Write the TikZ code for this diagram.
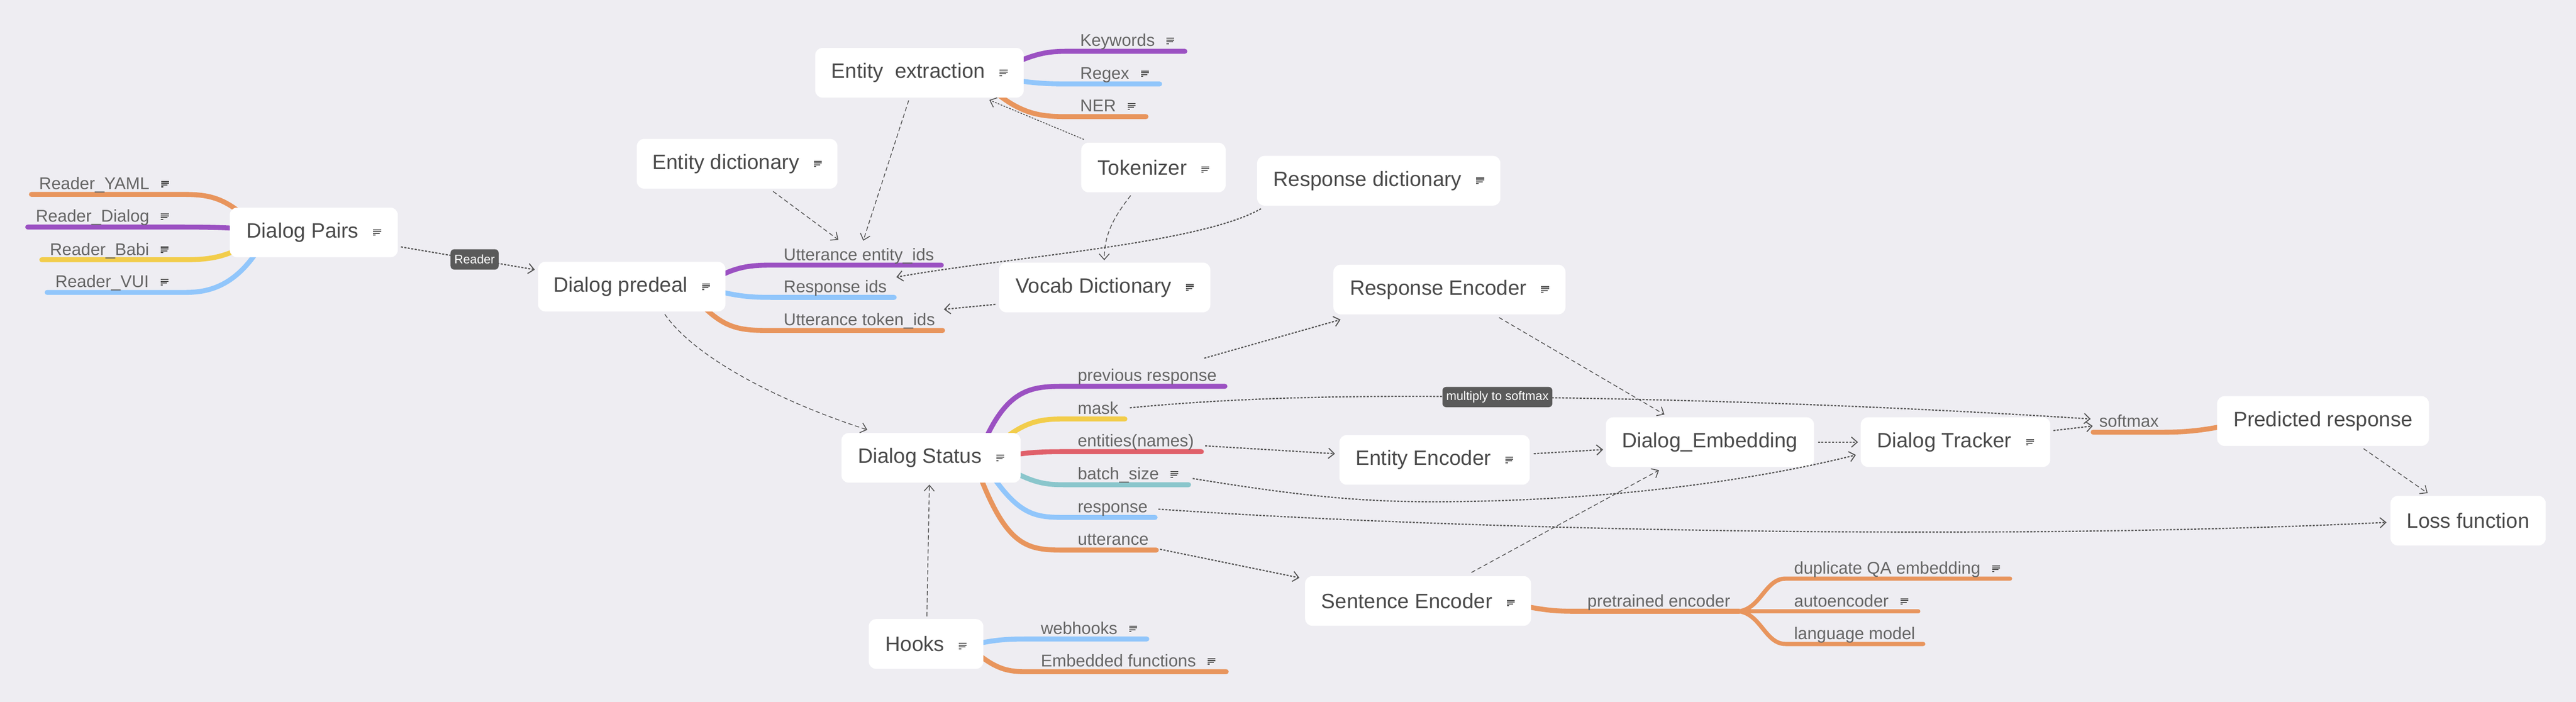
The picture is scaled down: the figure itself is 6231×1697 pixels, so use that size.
\documentclass[tikz,border=0pt]{standalone}
\usepackage{fontspec}
\setmainfont{Liberation Sans}
\usetikzlibrary{arrows.meta,calc}
\definecolor{bgc}{HTML}{EEEDF2}
\definecolor{corange}{HTML}{E8955D}
\definecolor{cpurple}{HTML}{9B51C2}
\definecolor{cyellow}{HTML}{F2CD4B}
\definecolor{cblue}{HTML}{91C6FB}
\definecolor{cred}{HTML}{E0606A}
\definecolor{cteal}{HTML}{8AC6CC}
\definecolor{conn}{HTML}{555555}
\definecolor{maintext}{HTML}{4A4A4A}
\definecolor{subtextc}{HTML}{666666}
\definecolor{tagc}{HTML}{5A5A5A}
\definecolor{iconc}{HTML}{555555}
\newcommand\mainfs{\fontsize{14.3pt}{17pt}\selectfont}
\newcommand\subfs{\fontsize{11.7pt}{14pt}\selectfont}
\newcommand\tagfs{\fontsize{8.5pt}{10pt}\selectfont}
\newcommand\nicon{{\color{iconc}\raisebox{1.4pt}{\vbox{\hrule width 5.4pt height 0.75pt\vskip0.5pt\hrule width 5.4pt height 0.75pt\vskip0.5pt\hrule width 4.4pt height 0.75pt\vskip0.5pt\hrule width 1.6pt height 0.75pt}}}}
\newcommand\mic{\hspace{10pt}\nicon}
\newcommand\sic{\hspace{8pt}\nicon}
\tikzset{
  mainnode/.style={fill=white, rounded corners=5pt, minimum height=1.2cm, inner sep=0pt, text=maintext, font=\mainfs},
  subtext/.style={anchor=base west, inner sep=0pt, text=subtextc, font=\subfs},
  br/.style={line width=3.4pt, line cap=round},
  brthin/.style={line width=2.9pt, line cap=round},
  dotarrow/.style={draw=conn, line width=0.85pt, dash pattern=on 1.4pt off 1pt, -{Straight Barb[length=4pt,width=7pt,line width=0.7pt]}},
  dotthin/.style={draw=conn, line width=0.6pt, dash pattern=on 1.2pt off 0.9pt, -{Straight Barb[length=4pt,width=7pt,line width=0.6pt]}},
  dasharrow/.style={draw=conn, line width=0.55pt, dash pattern=on 3pt off 1.8pt, -{Straight Barb[length=4pt,width=7pt,line width=0.6pt]}},
  tag/.style={fill=tagc, text=white, rounded corners=2.5pt, font=\tagfs, inner xsep=2.6pt, inner ysep=0pt, minimum height=0.49cm}
}
\begin{document}
\begin{tikzpicture}[x=0.01cm, y=-0.01cm]
\useasboundingbox (0,0) rectangle (6231,1697);
\fill[bgc] (0,0) rectangle (6231,1697);

% ---- branches: Dialog Pairs
\draw[br, corange] (600,530) .. controls (540,475) and (500,470) .. (440,470) -- (76,470);
\draw[br, cpurple] (600,555) .. controls (560,550) and (500,549) .. (440,549) -- (67,549);
\draw[br, cyellow] (600,590) .. controls (540,625) and (500,628) .. (440,628) -- (101,628);
\draw[br, cblue] (630,595) .. controls (560,710) and (480,707) .. (437,707) -- (114,707);
\node[subtext] (ryaml) at (94,458) {Reader\_YAML\sic};
\node[subtext] (rdial) at (86,537) {Reader\_Dialog\sic};
\node[subtext] (rbabi) at (120,617) {Reader\_Babi\sic};
\node[subtext] (rvui) at (133,695) {Reader\_VUI\sic};

% ---- branches: Dialog predeal
\draw[br, cpurple] (1740,668) .. controls (1790,641) and (1830,641) .. (1875,641) -- (2277,641);
\draw[br, cblue] (1740,705) .. controls (1800,719) and (1830,719) .. (1875,719) -- (2163,719);
\draw[br, corange] (1700,740) .. controls (1760,800) and (1800,799) .. (1875,799) -- (2280,799);
\node[subtext] (uei) at (1895,630) {Utterance entity\_ids};
\node[subtext] (rid) at (1895,707) {Response ids};
\node[subtext] (utid) at (1895,787) {Utterance token\_ids};

% ---- branches: Entity extraction
\draw[br, cpurple] (2460,150) .. controls (2520,124) and (2550,124) .. (2590,124) -- (2866,124);
\draw[br, cblue] (2460,195) .. controls (2520,203) and (2550,203) .. (2590,203) -- (2805,203);
\draw[br, corange] (2410,225) .. controls (2480,282) and (2530,282) .. (2590,282) -- (2772,282);
\node[subtext] (kw) at (2612,112) {Keywords\sic};
\node[subtext] (rx) at (2612,191) {Regex\sic};
\node[subtext] (ner) at (2612,270) {NER\sic};

% ---- branches: Dialog Status
\draw[br, cpurple] (2380,1070) .. controls (2440,934) and (2500,934) .. (2582,934) -- (2963,934);
\draw[br, cyellow] (2430,1060) .. controls (2490,1013) and (2530,1013) .. (2582,1013) -- (2721,1013);
\draw[br, cred] (2450,1100) .. controls (2500,1092) and (2540,1092) .. (2582,1092) -- (2906,1092);
\draw[br, cteal] (2450,1140) .. controls (2510,1172) and (2540,1172) .. (2582,1172) -- (2875,1172);
\draw[br, cblue] (2400,1150) .. controls (2470,1251) and (2510,1251) .. (2582,1251) -- (2794,1251);
\draw[br, corange] (2370,1150) .. controls (2440,1330) and (2490,1330) .. (2582,1330) -- (2797,1330);
\node[subtext] (prev) at (2606,922) {previous response};
\node[subtext] (mask) at (2606,1001) {mask};
\node[subtext] (ent) at (2606,1080) {entities(names)};
\node[subtext] (bs) at (2606,1160) {batch\_size\sic};
\node[subtext] (resp) at (2606,1239) {response};
\node[subtext] (utt) at (2606,1318) {utterance};

% ---- branches: Hooks
\draw[br, cblue] (2370,1555) .. controls (2420,1545) and (2450,1545) .. (2490,1545) -- (2774,1545);
\draw[br, corange] (2370,1585) .. controls (2420,1624) and (2450,1624) .. (2490,1624) -- (2966,1624);
\node[subtext] (wh) at (2517,1533) {webhooks\sic};
\node[subtext] (ef) at (2517,1612) {Embedded functions\sic};

% ---- branches: Sentence Encoder
\draw[br, corange] (3690,1466) .. controls (3750,1478) and (3780,1478) .. (3820,1478) -- (4207,1478);
\draw[brthin, corange] (4207,1478) .. controls (4260,1470) and (4270,1399) .. (4319,1399) -- (4862,1399);
\draw[brthin, corange] (4207,1478) -- (4640,1478);
\draw[brthin, corange] (4207,1478) .. controls (4260,1486) and (4270,1557) .. (4319,1557) -- (4652,1557);
\node[subtext] (pe) at (3839,1467) {pretrained encoder};
\node[subtext] (dqa) at (4339,1388) {duplicate QA embedding\sic};
\node[subtext] (ae) at (4339,1467) {autoencoder\sic};
\node[subtext] (lm) at (4339,1546) {language model};

% ---- branch: Predicted response
\draw[br, corange] (5380,1030) .. controls (5320,1042) and (5280,1045) .. (5230,1045) -- (5063,1045);
\node[subtext] (sm) at (5077,1033) {softmax};

% ---- main nodes
\node[mainnode, minimum width=4.06cm] (DP) at (759,562) {Dialog Pairs\mic};
\node[mainnode, minimum width=4.53cm] (PD) at (1528,693) {Dialog predeal\mic};
\node[mainnode, minimum width=5.04cm] (EE) at (2224,176) {Entity\ \ extraction\mic};
\node[mainnode, minimum width=4.85cm] (ED) at (1783,396) {Entity dictionary\mic};
\node[mainnode, minimum width=3.49cm] (TK) at (2790,405) {Tokenizer\mic};
\node[mainnode, minimum width=5.88cm] (RD) at (3335,437) {Response dictionary\mic};
\node[mainnode, minimum width=5.11cm] (VD) at (2672,695) {Vocab Dictionary\mic};
\node[mainnode, minimum width=5.61cm] (RE) at (3506,700) {Response Encoder\mic};
\node[mainnode, minimum width=4.33cm] (DS) at (2252,1107) {Dialog Status\mic};
\node[mainnode, minimum width=4.60cm] (EN) at (3470,1112) {Entity Encoder\mic};
\node[mainnode, minimum width=5.03cm] (EM) at (4136,1069) {Dialog\_Embedding};
\node[mainnode, minimum width=4.58cm] (DT) at (4730,1069) {Dialog Tracker\mic};
\node[mainnode, minimum width=5.12cm] (PR) at (5619,1018) {Predicted response};
\node[mainnode, minimum width=3.75cm] (LF) at (5970,1259) {Loss function};
\node[mainnode, minimum width=2.77cm] (HK) at (2240,1557) {Hooks\mic};
\node[mainnode, minimum width=5.46cm] (SE) at (3430,1453) {Sentence Encoder\mic};

% ---- connector end coordinates
\coordinate (uei-in1) at (2028,580);
\coordinate (uei-in2) at (2088,582);
\coordinate (rid-in) at (2168,670);
\coordinate (utid-in) at (2283,748);
\coordinate (sm-in1) at (5057,1013);
\coordinate (sm-in2) at (5062,1030);
\coordinate (prev-out) at (2913,866);
\coordinate (mask-out) at (2733,986);
\coordinate (ent-out) at (2915,1078);
\coordinate (bs-out) at (2885,1157);
\coordinate (resp-out) at (2802,1231);
\coordinate (utt-out) at (2806,1328);

% ---- connectors
\draw[dotarrow] ($(DP.east)+(7,35)$) -- node[tag, pos=0.55] {Reader} ($(PD.west)+(-7,-41)$);
\draw[dasharrow] ($(ED.south)+(87,6)$) -- (uei-in1);
\draw[dasharrow] ($(EE.south)+(-26,6)$) -- (uei-in2);
\draw[dotthin] ($(TK.north)+(-168,-7)$) -- ($(EE.south)+(169,5)$);
\draw[dasharrow] ($(TK.south)+(-55,7)$) .. controls (2690,530) and (2671,570) .. ($(VD.north)+(-1,-5)$);
\draw[dotarrow] ($(RD.south west)+(10,7)$) .. controls (2900,590) and (2450,620) .. (rid-in);
\draw[dotarrow] ($(VD.west)+(-8,41)$) -- (utid-in);
\draw[dasharrow] ($(PD.south)+(80,6)$) .. controls (1681,865) and (1884,970) .. ($(DS.north)+(-154,-7)$);
\draw[dasharrow] ($(HK.north)+(2,-6)$) -- ($(DS.south)+(-4,4)$);
\draw[dotarrow] (mask-out) .. controls (3000,960) and (3300,955) .. (3622,960) node[tag] {multiply to softmax} .. controls (4200,966) and (4700,990) .. (sm-in1);
\draw[dotarrow] (ent-out) -- ($(EN.west)+(-10,-15)$);
\draw[dotarrow] (bs-out) .. controls (3150,1200) and (3300,1215) .. (3500,1213) .. controls (3900,1210) and (4250,1160) .. ($(DT.west)+(-11,31)$);
\draw[dotarrow] (resp-out) .. controls (3500,1280) and (4800,1310) .. ($(LF.west)+(-9,4)$);
\draw[dotarrow] (utt-out) -- ($(SE.west)+(-13,-56)$);
\draw[dotarrow] (prev-out) -- ($(RE.south west)+(18,12)$);
\draw[dasharrow] ($(RE.south)+(120,7)$) -- ($(EM.north)+(-110,-6)$);
\draw[dasharrow] ($(SE.north)+(129,-8)$) -- ($(EM.south)+(-123,7)$);
\draw[dotarrow] ($(EN.east)+(9,-15)$) -- ($(EM.west)+(-6,18)$);
\draw[dotarrow] ($(EM.east)+(9,0)$) -- ($(DT.west)+(-6,0)$);
\draw[dotarrow] ($(DT.east)+(7,-28)$) -- (sm-in2);
\draw[dasharrow] ($(PR.south)+(98,6)$) -- ($(LF.north)+(-98,-6)$);
\end{tikzpicture}
\end{document}
